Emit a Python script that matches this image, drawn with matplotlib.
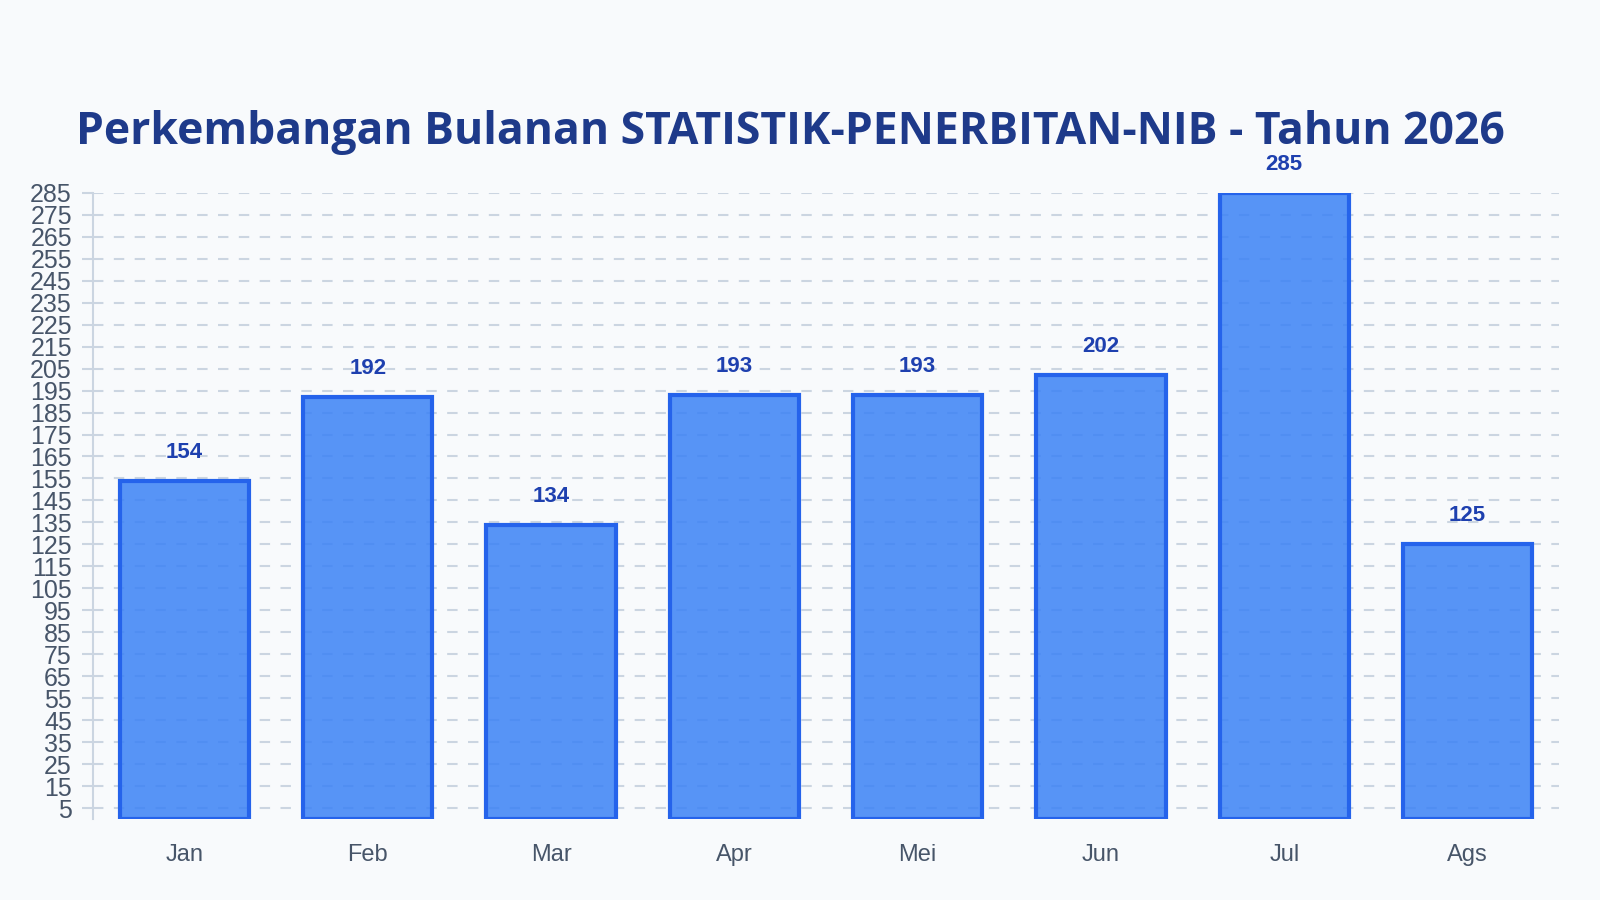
import matplotlib
matplotlib.use("Agg")
import matplotlib.pyplot as plt
import numpy as np

months = ["Jan", "Feb", "Mar", "Apr", "Mei", "Jun", "Jul", "Ags"]
counts = [154, 192, 134, 193, 193, 202, 285, 125]
y_ticks = list(range(5, 286, 10))

bg = "#f8fafc"
grid_color = "#cbd5e1"
tick_color = "#475569"

fig = plt.figure(figsize=(16, 9), dpi=100, facecolor=bg)
ax = fig.add_axes([0.058, 0.0896, 0.9165, 0.6964], facecolor=bg)

x = np.arange(len(months))
ax.bar(
    x,
    counts,
    width=0.705,
    color=(59 / 255, 130 / 255, 246 / 255, 0.85),
    edgecolor="#2563eb",
    linewidth=3,
    zorder=2,
)

for xi, v in zip(x, counts):
    ax.annotate(
        str(v),
        xy=(xi, v),
        xytext=(0, 13),
        textcoords="offset points",
        ha="center",
        va="bottom",
        fontsize=16,
        fontweight="bold",
        color="#1e40af",
        family="Liberation Sans",
    )

ax.set_xlim(-0.5, 7.5)
ax.set_ylim(0, 285)
ax.set_yticks(y_ticks)
ax.set_xticks(x)
ax.set_xticklabels(months)

ax.yaxis.grid(True, linestyle=(0, (5, 5)), color=grid_color, linewidth=1.5, zorder=0)
ax.set_axisbelow(True)

for side in ["top", "right", "bottom"]:
    ax.spines[side].set_visible(False)
ax.spines["left"].set_color(grid_color)
ax.spines["left"].set_linewidth(1.5)

ax.tick_params(axis="y", length=8, width=1.5, color=grid_color, pad=7,
               labelsize=18, labelcolor=tick_color)
ax.tick_params(axis="x", length=0, pad=18, labelsize=17, labelcolor=tick_color)
for lab in ax.get_xticklabels() + ax.get_yticklabels():
    lab.set_family("Liberation Sans")

fig.text(
    0.4937, 0.853,
    "Perkembangan Bulanan STATISTIK-PENERBITAN-NIB - Tahun 2026",
    ha="center", va="center",
    fontsize=32, fontweight="bold", color="#1e3a8a",
    family="Open Sans",
)

fig.savefig("out.png", dpi=100, facecolor=bg)
